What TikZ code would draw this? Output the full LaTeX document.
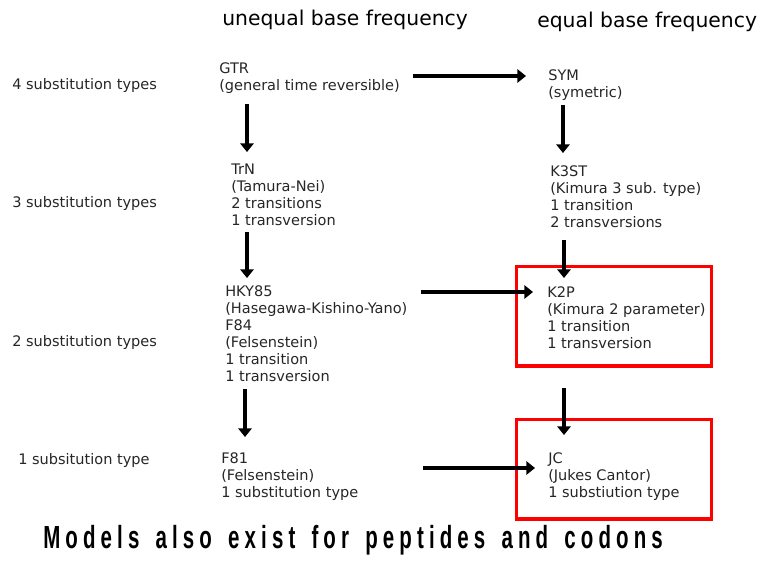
\documentclass[tikz,border=0pt]{standalone}
\usepackage{fontspec}
\setmainfont{DejaVu Sans}
\newfontfamily\bannerfont[FakeStretch=0.64,LetterSpace=16,WordSpace=1.5]{Liberation Sans}
\usetikzlibrary{arrows.meta,positioning,calc}
\tikzset{
  model/.style={anchor=north west,inner sep=0pt,align=left,text=black!85,font=\fontsize{10.9pt}{12.75pt}\selectfont},
  rowlabel/.style={anchor=west,inner sep=0pt,text=black!85,font=\fontsize{10.9pt}{12.75pt}\selectfont},
  heading/.style={anchor=base west,inner sep=0pt,font=\fontsize{15.25pt}{18pt}\selectfont},
  arr/.style={line width=2.6pt,-{Triangle[width=10pt,length=6.5pt]}},
  redbox/.style={draw=red,line width=2.5pt,anchor=north west,minimum width=146pt,minimum height=74.5pt,inner sep=0pt}
}
\begin{document}
\begin{tikzpicture}[x=0.75pt,y=-0.75pt]
\useasboundingbox (0,0) rectangle (759,564);
\node[heading] (uneq) at (222,26) {unequal base frequency};
\node[heading] (eq) at (537,27) {equal base frequency};
\node[rowlabel] (row4) at (12,85) {4 substitution types};
\node[rowlabel] (row3) at (12,203) {3 substitution types};
\node[rowlabel] (row2) at (12,342) {2 substitution types};
\node[rowlabel] (row1) at (18,460) {1 subsitution type};

\node[model] (GTR) at (219,62) {GTR\\(general time reversible)};
\node[model] (SYM) at (548,69) {SYM\\(symetric)};
\node[model] (TrN) at (231,164) {TrN\\(Tamura-Nei)\\2 transitions\\1 transversion};
\node[model] (K3ST) at (550,165) {K3ST\\(Kimura 3 sub. type)\\1 transition\\2 transversions};
\node[model] (HKY) at (225,285) {HKY85\\(Hasegawa-Kishino-Yano)\\F84\\(Felsenstein)\\1 transition\\1 transversion};
\node[model] (K2P) at (547,286) {K2P\\(Kimura 2 parameter)\\1 transition\\1 transversion};
\node[model] (F81) at (221,452) {F81\\(Felsenstein)\\1 substitution type};
\node[model] (JC) at (548,452) {JC\\(Jukes Cantor)\\1 substiution type};

% red frames round K2P and JC
\node[redbox] (K2Pbox) at ([shift={(-32,-21)}]K2P.north west) {};
\node[redbox] (JCbox) at ([shift={(-33,-34)}]JC.north west) {};

\draw[arr] ([shift={(13,14)}]GTR.north east) -- ([shift={(-22,7)}]SYM.north west);
\draw[arr] ([shift={(28,42)}]GTR.north west) -- ([shift={(16,-12)}]TrN.north west);
\draw[arr] ([shift={(15,36)}]SYM.north west) -- ([shift={(13,-12)}]K3ST.north west);
\draw[arr] ([shift={(16,68)}]TrN.north west) -- ([shift={(22,-7)}]HKY.north west);
\draw[arr] ([shift={(14,75)}]K3ST.north west) -- ([shift={(17,-8)}]K2P.north west);
\draw[arr] ([shift={(13,7)}]HKY.north east) -- ([shift={(-14,6)}]K2P.north west);
\draw[arr] ([shift={(20,104)}]HKY.north west) -- ([shift={(24,-15)}]F81.north west);
\draw[arr] ([shift={(17,102)}]K2P.north west) -- ([shift={(16,-17)}]JC.north west);
\draw[arr] ([shift={(64,16)}]F81.north east) -- ([shift={(-13,16)}]JC.north west);

\node[anchor=base west,inner sep=0pt,font=\bannerfont\bfseries\fontsize{24pt}{27pt}\selectfont] (banner) at (43,548) {Models also exist for peptides and codons};
\end{tikzpicture}
\end{document}
